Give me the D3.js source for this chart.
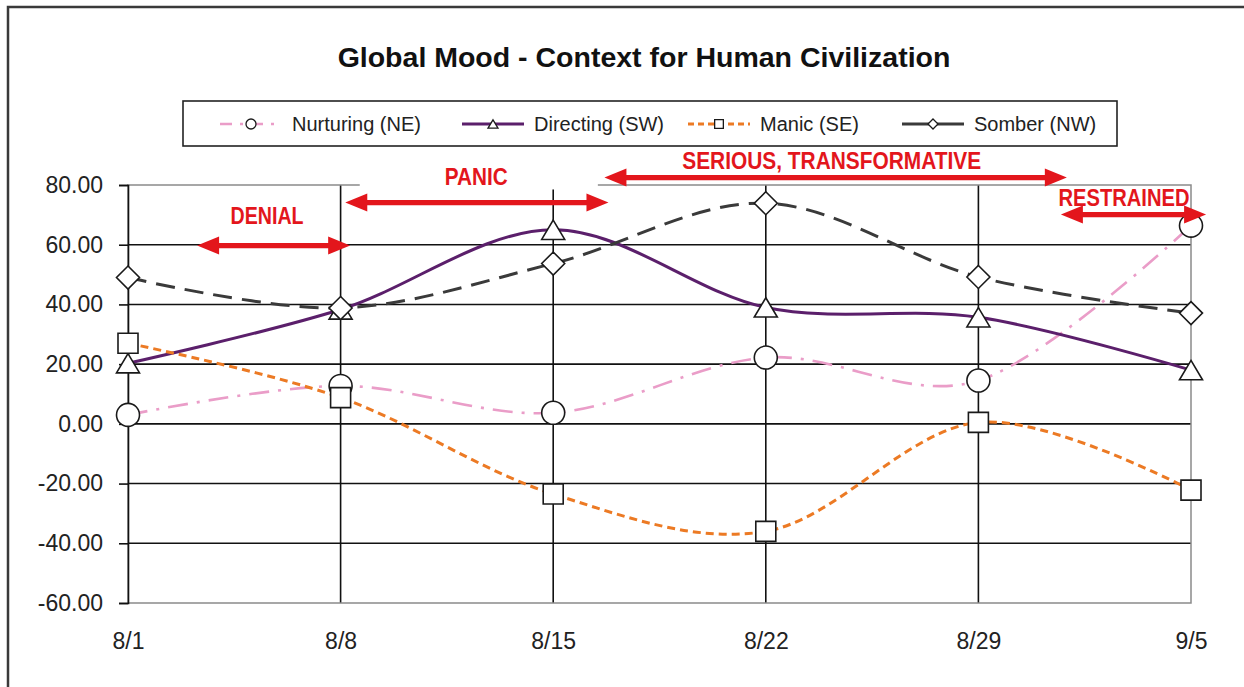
<!DOCTYPE html>
<html>
<head>
<meta charset="utf-8">
<script src="https://cdn.jsdelivr.net/npm/d3@7"></script>
<style>
  body { margin: 0; background: #fff; }
  svg { display: block; font-family: "Liberation Sans", Arial, sans-serif; }
</style>
</head>
<body>
<svg width="1244" height="687"></svg>
<script>
// --- data ---
var categories = ["8/1", "8/8", "8/15", "8/22", "8/29", "9/5"];
var nurturing = [3, 12.7, 3.7, 22.2, 14.5, 66.4];
var directing = [20.3, 38.3, 65, 39, 35.7, 18];
var manic = [27, 8.8, -23.5, -36, 0.5, -22.2];
var somber = [49, 38.8, 53.7, 73.9, 49.2, 37.1];
var seriesNames = ["Nurturing (NE)", "Directing (SW)", "Manic (SE)", "Somber (NW)"];
var yTicks = [-60, -40, -20, 0, 20, 40, 60, 80];

// phase annotations (weeks counted from 8/1, level in chart units)
var phaseLabels = ["DENIAL", "PANIC", "SERIOUS, TRANSFORMATIVE", "RESTRAINED"];
var phaseFrom = [0.325, 1.022, 2.241, 4.388];
var phaseTo = [1.045, 2.26, 4.416, 5.071];
var phaseLevel = [59.7, 74.1, 82.5, 70.1];

var svg = d3.select("svg"),
  plotLeft = 128, plotRight = 1191, plotTop = 185, plotBottom = 603;

var xScale = d3.scalePoint().domain(categories).range([plotLeft, plotRight]);
var yScale = d3.scaleLinear().domain([-60, 80]).range([plotBottom, plotTop]);

// x position for fractional week index (annotations sit between categories)
function xAt(i) {
  return xScale(categories[0]) + i * xScale.step();
}

// outer chart frame (right/bottom run off the picture)
svg.append("rect")
  .attr("x", 8).attr("y", 7)
  .attr("width", 1260).attr("height", 700)
  .attr("fill", "#fff")
  .attr("stroke", "#3a3a3a")
  .attr("stroke-width", 2.5);

// title
svg.append("text")
  .attr("x", 644).attr("y", 67)
  .attr("text-anchor", "middle")
  .attr("font-size", "28.5px")
  .attr("font-weight", "bold")
  .attr("fill", "#111")
  .text("Global Mood - Context for Human Civilization");

var g = svg.append("g");

// horizontal gridlines
g.selectAll(".hgrid")
  .data(yTicks.filter(function(d) { return d > -60 && d < 80; }))
  .enter().append("line")
  .attr("x1", plotLeft).attr("x2", plotRight)
  .attr("y1", function(d) { return yScale(d); })
  .attr("y2", function(d) { return yScale(d); })
  .attr("stroke", "#111")
  .attr("stroke-width", 1.6);

// vertical gridlines
g.selectAll(".vgrid")
  .data(categories.slice(1, categories.length - 1))
  .enter().append("line")
  .attr("x1", function(d) { return xScale(d); })
  .attr("x2", function(d) { return xScale(d); })
  .attr("y1", plotTop).attr("y2", plotBottom)
  .attr("stroke", "#111")
  .attr("stroke-width", 1.6);

// plot area border (grey)
g.append("rect")
  .attr("x", plotLeft).attr("y", plotTop)
  .attr("width", plotRight - plotLeft).attr("height", plotBottom - plotTop)
  .attr("fill", "none")
  .attr("stroke", "#8a8a8a")
  .attr("stroke-width", 1.5);

// y axis
var yAxis = g.append("g")
  .attr("transform", "translate(" + plotLeft + ",0)")
  .call(d3.axisLeft(yScale).tickValues(yTicks).tickSize(9).tickPadding(16)
    .tickFormat(function(d) { return d.toFixed(2); }));
yAxis.select(".domain").attr("stroke", "#111").attr("stroke-width", 1.6);
yAxis.selectAll(".tick line").attr("stroke", "#111").attr("stroke-width", 1.6);
yAxis.selectAll("text")
  .attr("font-size", "23px")
  .attr("fill", "#222")
  .attr("font-family", "'Liberation Sans', Arial, sans-serif");

// x axis labels
var xAxis = g.append("g")
  .attr("transform", "translate(0," + plotBottom + ")")
  .call(d3.axisBottom(xScale).tickSize(0).tickPadding(30));
xAxis.select(".domain").remove();
xAxis.selectAll("text")
  .attr("font-size", "23px")
  .attr("fill", "#222")
  .attr("font-family", "'Liberation Sans', Arial, sans-serif");

// --- markers ---
function markerPath(type, s) {
  var h = s / 2;
  if (type == "circle") {
    return "M" + (-h) + ",0A" + h + "," + h + " 0 1,1 " + h + ",0A" + h + "," + h + " 0 1,1 " + (-h) + ",0Z";
  }
  if (type == "triangle") {
    return "M0," + (-s * 0.42) + "L" + h + "," + (s * 0.42) + "L" + (-h) + "," + (s * 0.42) + "Z";
  }
  if (type == "square") {
    return "M" + (-h * 0.87) + "," + (-h * 0.87) + "h" + (s * 0.87) + "v" + (s * 0.87) + "h" + (-s * 0.87) + "Z";
  }
  return "M0," + (-h) + "L" + h + ",0L0," + h + "L" + (-h) + ",0Z"; // diamond
}

var seriesValues = [nurturing, directing, manic, somber];
var seriesStyle = [
  { color: "#ea9dc8", width: 2.6, dash: "20,9,3,9", marker: "circle" },
  { color: "#5b1f6b", width: 3, dash: null, marker: "triangle" },
  { color: "#ec7a24", width: 3, dash: "8,5", marker: "square" },
  { color: "#3a3a3a", width: 3, dash: "19,10", marker: "diamond" }
];

var line = d3.line()
  .x(function(d, i) { return xScale(categories[i]); })
  .y(function(d) { return yScale(d); })
  .curve(d3.curveCardinal.tension(0));

for (var s = 0; s < seriesValues.length; s++) {
  var st = seriesStyle[s];
  var sg = g.append("g");
  sg.append("path")
    .attr("d", line(seriesValues[s]))
    .attr("fill", "none")
    .attr("stroke", st.color)
    .attr("stroke-width", st.width)
    .attr("stroke-dasharray", st.dash);
  sg.selectAll(".mk")
    .data(seriesValues[s])
    .enter().append("path")
    .attr("transform", function(d, i) {
      return "translate(" + xScale(categories[i]) + "," + yScale(d) + ")";
    })
    .attr("d", markerPath(st.marker, 23))
    .attr("fill", "#fff")
    .attr("stroke", "#1a1a1a")
    .attr("stroke-width", 1.6);
}

// --- legend ---
var legend = svg.append("g");
legend.append("rect")
  .attr("x", 183).attr("y", 101)
  .attr("width", 934).attr("height", 45)
  .attr("fill", "#fff")
  .attr("stroke", "#222")
  .attr("stroke-width", 1.6);

var legendX = [220, 462, 688, 902];
for (var k = 0; k < seriesNames.length; k++) {
  var ls = seriesStyle[k];
  var lx = legendX[k];
  legend.append("line")
    .attr("x1", lx).attr("x2", lx + 62)
    .attr("y1", 124).attr("y2", 124)
    .attr("stroke", ls.color)
    .attr("stroke-width", ls.width)
    .attr("stroke-dasharray", k == 0 ? "12,8,3,8" : (k == 2 ? "6,4" : null));
  legend.append("path")
    .attr("transform", "translate(" + (lx + 31) + ",124)")
    .attr("d", markerPath(ls.marker, 10))
    .attr("fill", "#fff")
    .attr("stroke", "#1a1a1a")
    .attr("stroke-width", 1.3);
  legend.append("text")
    .attr("x", lx + 72).attr("y", 131)
    .attr("font-size", "20px")
    .attr("fill", "#222")
    .text(seriesNames[k]);
}

// --- phase annotations ---
var red = "#e3161c";
var ann = svg.append("g");

// white text box behind PANIC hides the top border there
ann.append("rect")
  .attr("x", xAt(1.09)).attr("y", yScale(91.9))
  .attr("width", xAt(2.21) - xAt(1.09))
  .attr("height", yScale(78.5) - yScale(91.9))
  .attr("fill", "#fff");

var textX = [0.654, 1.638, 3.31, 4.685];
var textLevel = [67.1, 80.1, 85.2, 73.1];
var textWidth = [73, 63, 299, 131];

function arrowPath(x0, x1, y) {
  var hl = 22, hw = 9, sw = 2.6;
  return "M" + x0 + "," + y +
    "L" + (x0 + hl) + "," + (y - hw) +
    "L" + (x0 + hl) + "," + (y - sw) +
    "L" + (x1 - hl) + "," + (y - sw) +
    "L" + (x1 - hl) + "," + (y - hw) +
    "L" + x1 + "," + y +
    "L" + (x1 - hl) + "," + (y + hw) +
    "L" + (x1 - hl) + "," + (y + sw) +
    "L" + (x0 + hl) + "," + (y + sw) +
    "L" + (x0 + hl) + "," + (y + hw) + "Z";
}

for (var p = 0; p < phaseLabels.length; p++) {
  ann.append("path")
    .attr("d", arrowPath(xAt(phaseFrom[p]), xAt(phaseTo[p]), yScale(phaseLevel[p])))
    .attr("fill", red);
  ann.append("text")
    .attr("x", xAt(textX[p]))
    .attr("y", yScale(textLevel[p]))
    .attr("text-anchor", "middle")
    .attr("font-size", "23px")
    .attr("font-weight", "bold")
    .attr("font-family", "'Liberation Sans Narrow', 'Arial Narrow', 'Liberation Sans', Arial, sans-serif")
    .attr("textLength", textWidth[p])
    .attr("lengthAdjust", "spacingAndGlyphs")
    .attr("fill", red)
    .text(phaseLabels[p]);
}
</script>
</body>
</html>
